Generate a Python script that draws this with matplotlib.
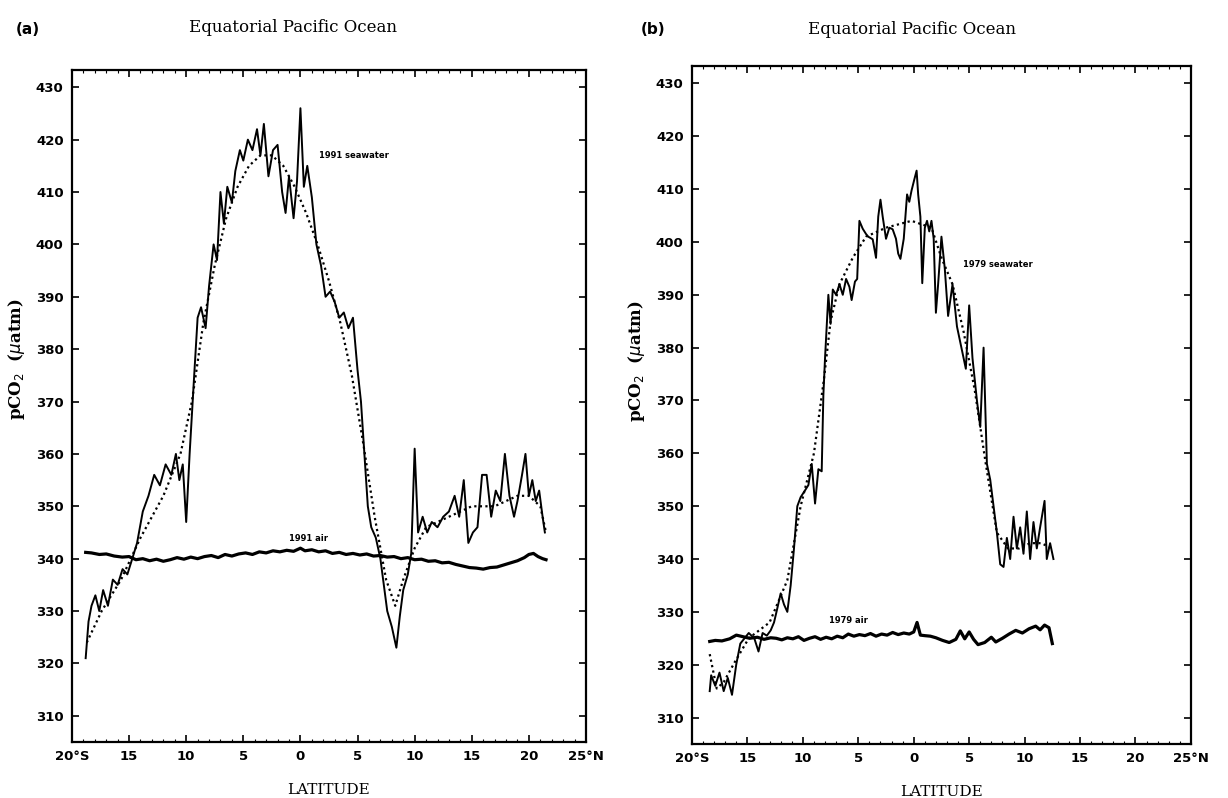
import matplotlib
matplotlib.use("Agg")
import matplotlib.pyplot as plt
from matplotlib.ticker import MultipleLocator

# ---- panel (a): 1991 ----
lat_sw91 = [-18.8, -18.55, -18.29, -17.95, -17.61, -17.27, -16.85, -16.42, -16.0, -15.57, -15.15, -14.72,
            -14.3, -13.8, -13.3, -12.8, -12.3, -11.8, -11.3, -10.9, -10.6, -10.3, -10.0, -9.7,
            -9.3, -9.0, -8.7, -8.3, -8.0, -7.6, -7.3, -7.0, -6.7, -6.4, -6.0, -5.7, -5.3, -5.0,
            -4.6, -4.2, -3.8, -3.5, -3.2, -2.8, -2.4, -2.0, -1.6, -1.3, -1.0, -0.6, -0.3, 0.0,
            0.3, 0.6, 1.0, 1.4, 1.8, 2.2, 2.6, 3.0, 3.4, 3.8, 4.2, 4.6, 5.0, 5.3, 5.6, 5.9,
            6.2, 6.6, 7.0, 7.3, 7.6, 8.0, 8.4, 8.7, 9.0, 9.4, 9.7, 10.0, 10.3, 10.7, 11.1,
            11.5, 12.0, 12.5, 13.0, 13.5, 13.9, 14.3, 14.7, 15.1, 15.5, 15.9, 16.3, 16.7,
            17.1, 17.5, 17.9, 18.3, 18.7, 19.0, 19.4, 19.7, 20.0, 20.3, 20.6, 20.9, 21.2, 21.4]
pco2_sw91 = [321, 328, 331, 333, 330, 334, 331, 336, 335, 338, 337, 340,
             343, 349, 352, 356, 354, 358, 356, 360, 355, 358, 347, 360,
             375, 386, 388, 384, 392, 400, 397, 410, 404, 411, 408, 414, 418, 416,
             420, 418, 422, 417, 423, 413, 418, 419, 410, 406, 413, 405, 412, 426,
             411, 415, 409, 400, 396, 390, 391, 389, 386, 387, 384, 386, 376, 370, 360, 350,
             346, 344, 340, 335, 330, 327, 323, 329, 334, 337, 341, 361, 345, 348, 345,
             347, 346, 348, 349, 352, 348, 355, 343, 345, 346, 356, 356, 348,
             353, 351, 360, 352, 348, 351, 356, 360, 352, 355, 351, 353, 348, 345]

lat_fit91 = [-18.7, -17.4, -15.7, -14, -12, -10.5, -9.5, -8.5, -7.5, -6.5, -5.5, -4.5, -3.5, -2.5,
             -1.5, -0.5, 0.5, 1.5, 2.5, 3.5, 4.5, 5.5, 6.5, 7.5, 8.3, 9, 10, 11, 12, 13, 14,
             15, 16, 17, 18, 19, 20, 21, 21.5]
pco2_fit91 = [324, 330, 336, 344, 352, 360, 370, 385, 396, 405, 411, 415, 417, 417,
              415, 411, 406, 400, 393, 385, 375, 362, 348, 336, 331, 336, 342, 346, 347, 348, 349,
              350, 350, 350, 351, 352, 352, 350, 345]

lat_air91 = [-18.8, -18.3, -17.6, -17, -16.3, -15.6, -15, -14.4, -13.8, -13.2, -12.6, -12,
             -11.4, -10.8, -10.2, -9.6, -9, -8.4, -7.8, -7.2, -6.6, -6, -5.4, -4.8, -4.2, -3.6,
             -3, -2.4, -1.8, -1.2, -0.6, 0, 0.4, 1, 1.6, 2.2, 2.8, 3.4, 4, 4.6, 5.2, 5.8, 6.4,
             7, 7.6, 8.2, 8.8, 9.4, 10, 10.6, 11.2, 11.8, 12.4, 13, 13.6, 14.2, 14.8, 15.4, 16,
             16.6, 17.2, 17.8, 18.4, 19, 19.6, 20, 20.4, 20.8, 21.2, 21.5]
pco2_air91 = [341.2, 341.1, 340.8, 340.9, 340.5, 340.3, 340.4, 339.8, 340.0, 339.6, 339.9, 339.5,
              339.8, 340.2, 339.9, 340.3, 340.0, 340.4, 340.6, 340.2, 340.8, 340.5, 340.9, 341.1, 340.8, 341.3,
              341.1, 341.5, 341.3, 341.6, 341.4, 342.0, 341.5, 341.7, 341.3, 341.5, 341.0, 341.2, 340.8, 341.0,
              340.7, 340.9, 340.5, 340.6, 340.3, 340.4, 340.0, 340.2, 339.8, 339.9, 339.5, 339.6, 339.2, 339.3,
              338.9, 338.6, 338.3, 338.2, 338.0, 338.3, 338.4, 338.8, 339.2, 339.6, 340.2, 340.8, 341.0, 340.4,
              340.0, 339.8]

# ---- panel (b): 1979 ----
lat_sw79 = [-18.4, -18.27, -17.9, -17.52, -17.14, -16.77, -16.39, -16.01, -15.64, -15.26, -14.88, -14.38,
            -14.0, -13.63, -13.25, -12.9, -12.6, -12.3, -12.0, -11.7, -11.4, -11.1, -10.8, -10.5,
            -10.2, -9.8, -9.5, -9.2, -8.9, -8.6, -8.3, -8.15, -8.0, -7.7, -7.5, -7.3, -7.0, -6.7,
            -6.4, -6.1, -5.8, -5.6, -5.3, -5.1, -4.9, -4.6, -4.3, -4.1, -3.7, -3.4, -3.2, -3.0,
            -2.8, -2.5, -2.2, -1.9, -1.6, -1.4, -1.2, -0.9, -0.6, -0.4, -0.2, 0.05, 0.26, 0.4,
            0.6, 0.77, 1.0, 1.2, 1.4, 1.6, 1.8, 2.0, 2.2, 2.5, 2.8, 3.1, 3.5, 3.9, 4.3, 4.7,
            5.0, 5.3, 5.7, 6.0, 6.3, 6.6, 6.9, 7.2, 7.5, 7.8, 8.1, 8.4, 8.7, 9.0, 9.3, 9.6,
            9.9, 10.2, 10.5, 10.8, 11.1, 11.4, 11.8, 12.0, 12.3, 12.6]
pco2_sw79 = [315, 318, 316, 318.5, 315, 317.5, 314.3, 320, 324, 325, 326, 325,
             322.5, 326, 325.5, 326.5, 328, 330.7, 333.5, 331.4, 330, 335, 342, 350,
             351.7, 353, 354, 358, 350.5, 357, 356.6, 371, 378, 390, 384.5, 391, 390, 392,
             390, 393, 391.5, 389, 392.5, 393, 404, 402.5, 401.5, 401, 400.5, 397, 404.8, 408,
             404.8, 400.6, 402.7, 402.4, 400.6, 397.8, 396.8, 400.6, 409, 407.6, 409.7, 411.8, 413.5, 409,
             404.8, 392.2, 402.7, 404, 402, 404, 400.6, 386.6, 392, 401, 395, 386, 392, 384, 380, 376,
             388, 378, 370, 365, 380, 358, 355, 350, 345, 339, 338.5, 344, 340, 348, 342, 346,
             341, 349, 340, 347, 342, 346, 351, 340, 343, 340]

lat_fit79 = [-18.4, -17.77, -17.14, -16.14, -14.88, -13.0, -11.4, -10.2, -9.0, -8.1, -7.5, -6.7,
             -5.5, -4.3, -2.5, -0.2, 1.6, 2.5, 3.5, 4.5, 5.5, 6.5, 7.5, 8.5, 9.5, 10.5,
             11.5, 12.5]
pco2_fit79 = [322, 315.5, 316.7, 320.5, 325, 328, 336, 350, 360, 374, 385, 392,
              397, 401, 402.7, 404, 402.7, 397, 392, 383, 372, 358, 345, 342, 342, 343,
              343, 342]

lat_air79 = [-18.4, -17.9, -17.3, -16.6, -16.0, -15.4, -14.8, -14.1, -13.5, -12.9, -12.4, -11.9,
             -11.4, -10.9, -10.4, -9.9, -9.4, -8.9, -8.4, -7.9, -7.4, -6.9, -6.4, -5.9, -5.4,
             -4.9, -4.4, -3.9, -3.4, -2.9, -2.4, -1.9, -1.4, -0.9, -0.4, 0.0, 0.3, 0.6, 1.0,
             1.5, 2.0, 2.6, 3.2, 3.8, 4.2, 4.6, 5.0, 5.4, 5.8, 6.4, 7.0, 7.4, 8.0, 8.6, 9.2,
             9.8, 10.4, 11.0, 11.4, 11.8, 12.2, 12.5]
pco2_air79 = [324.4, 324.6, 324.5, 324.9, 325.6, 325.3, 325.0, 325.2, 324.8, 325.1, 325.0, 324.7,
              325.1, 324.9, 325.3, 324.6, 325.0, 325.3, 324.8, 325.2, 324.9, 325.4, 325.1, 325.8,
              325.4, 325.7, 325.5, 325.9, 325.4, 325.8, 325.6, 326.1, 325.7, 326.0, 325.8, 326.2,
              328.0, 325.6, 325.5, 325.4, 325.1, 324.6, 324.2, 324.8, 326.4, 324.9, 326.2, 324.8,
              323.8, 324.2, 325.2, 324.3, 325.0, 325.8, 326.5, 326.0, 326.8, 327.3, 326.6, 327.5,
              327.0, 324.0]

xticks = [-20, -15, -10, -5, 0, 5, 10, 15, 20, 25]
xticklabels = ["20°S", "15", "10", "5", "0", "5", "10", "15", "20", "25°N"]
yticks = list(range(310, 431, 10))

serif = "DejaVu Serif"

fig = plt.figure(figsize=(12.28, 7.98), dpi=100)


def style_axes(ax):
    ax.set_xlim(-20, 25)
    ax.set_ylim(305, 433.3)
    ax.set_xticks(xticks)
    ax.set_xticklabels(xticklabels)
    ax.set_yticks(yticks)
    ax.xaxis.set_minor_locator(MultipleLocator(1))
    ax.tick_params(which="major", direction="in", length=5, width=1.2,
                   top=True, right=True, labelsize=9.5, pad=6)
    ax.tick_params(which="minor", direction="in", length=2, width=0.8,
                   top=True, bottom=True)
    for lab in ax.get_xticklabels() + ax.get_yticklabels():
        lab.set_fontweight("bold")
    for s in ax.spines.values():
        s.set_linewidth(1.6)
    ax.set_xlabel("LATITUDE", family=serif, fontsize=11, labelpad=14)
    ax.set_ylabel(r"pCO$_2$  ($\mu$atm)", family=serif, fontsize=12, fontweight="bold")


def draw_panel(ax, lat_sw, sw, lat_fit, fit, lat_air, air):
    ax.plot(lat_fit, fit, color="black", linestyle=(0, (1, 1.5)), linewidth=1.6)
    ax.plot(lat_sw, sw, color="black", linewidth=1.4)
    ax.plot(lat_air, air, color="black", linewidth=2.3)


ax1 = fig.add_axes([0.0586, 0.0702, 0.4186, 0.8421])
draw_panel(ax1, lat_sw91, pco2_sw91, lat_fit91, pco2_fit91, lat_air91, pco2_air91)
style_axes(ax1)
ax1.yaxis.set_label_coords(-0.088, 0.57)
ax1.text(1.6, 416.5, "1991 seawater", fontsize=6, fontweight="bold")
ax1.text(-1.0, 343.3, "1991 air", fontsize=6, fontweight="bold")

ax2 = fig.add_axes([0.5635, 0.0677, 0.4063, 0.8496])
draw_panel(ax2, lat_sw79, pco2_sw79, lat_fit79, pco2_fit79, lat_air79, pco2_air79)
style_axes(ax2)
ax2.yaxis.set_label_coords(-0.09, 0.565)
ax2.text(4.4, 395.3, "1979 seawater", fontsize=6, fontweight="bold")
ax2.text(-7.6, 327.8, "1979 air", fontsize=6, fontweight="bold")

fig.text(0.013, 0.963, "(a)", fontsize=11, fontweight="bold", va="center")
fig.text(0.239, 0.966, "Equatorial Pacific Ocean", family=serif, fontsize=12,
         ha="center", va="center")
fig.text(0.522, 0.963, "(b)", fontsize=11, fontweight="bold", va="center")
fig.text(0.743, 0.963, "Equatorial Pacific Ocean", family=serif, fontsize=12,
         ha="center", va="center")

fig.savefig("out.png", dpi=100)
